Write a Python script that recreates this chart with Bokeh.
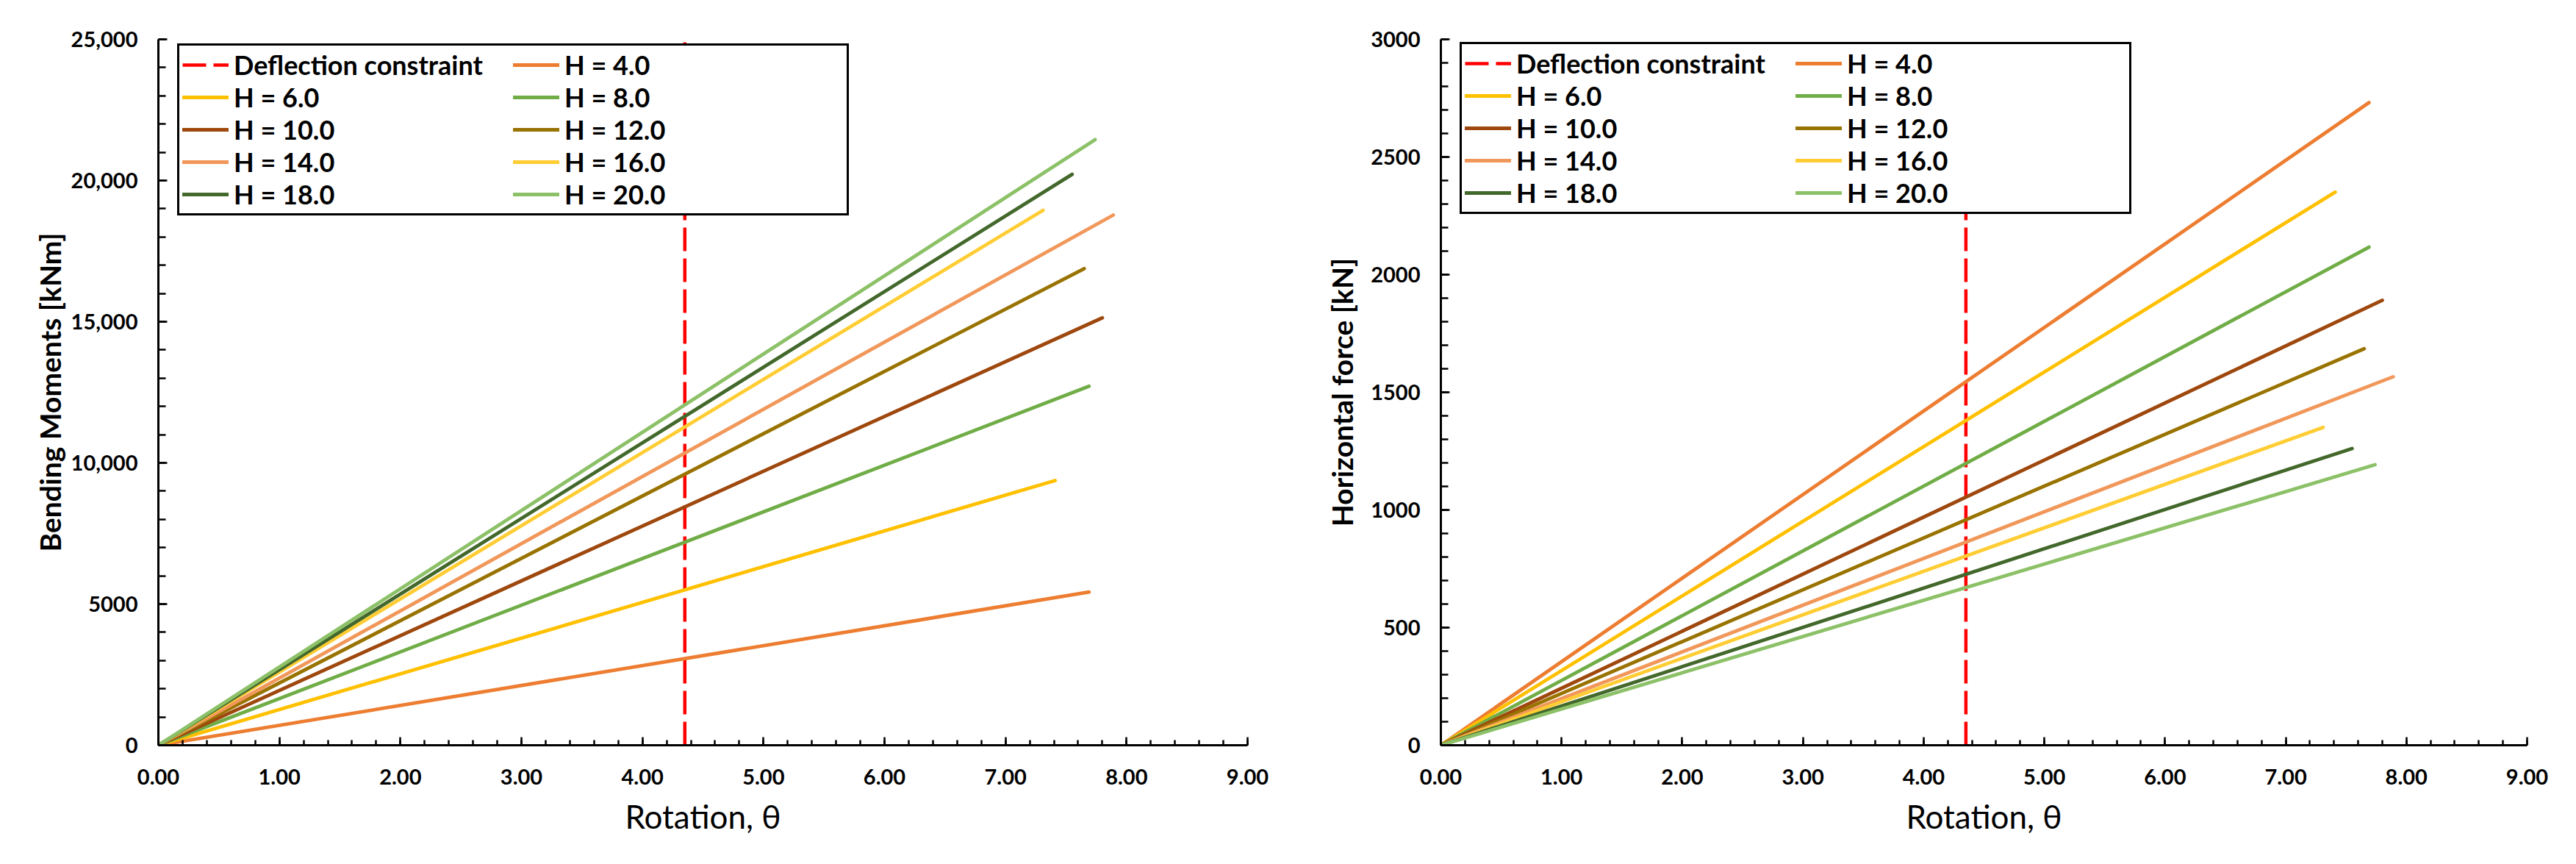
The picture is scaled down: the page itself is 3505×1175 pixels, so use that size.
from bokeh.plotting import figure
from bokeh.layouts import row
from bokeh.models import Range1d, FixedTicker, Legend, LegendItem
from bokeh.embed import file_html
from bokeh.resources import INLINE

# ---------------- data ----------------
series_labels = ["H = 4.0", "H = 6.0", "H = 8.0", "H = 10.0", "H = 12.0",
                 "H = 14.0", "H = 16.0", "H = 18.0", "H = 20.0"]
series_colors = ["#ED7D31", "#FFC000", "#70AD47", "#9E480E", "#997300",
                 "#F1975A", "#FFCD33", "#43682B", "#8CC168"]
theta_start = 0.0
theta_end = [7.69, 7.41, 7.69, 7.80, 7.65, 7.89, 7.31, 7.55, 7.74]
moment_end = [5424, 9376, 12713, 15138, 16881, 18776, 18945, 20218, 21448]
force_end = [2731, 2351, 2117, 1891, 1685, 1566, 1351, 1261, 1192]

constraint_label = "Deflection constraint"
constraint_theta = 4.35
constraint_color = "#FF0000"

x_ticks = [0, 1, 2, 3, 4, 5, 6, 7, 8, 9]
x_tick_labels = ["0.00", "1.00", "2.00", "3.00", "4.00", "5.00", "6.00", "7.00", "8.00", "9.00"]
moment_ticks = [0, 5000, 10000, 15000, 20000, 25000]
moment_tick_labels = ["0", "5000", "10,000", "15,000", "20,000", "25,000"]
force_ticks = [0, 500, 1000, 1500, 2000, 2500, 3000]
force_tick_labels = ["0", "500", "1000", "1500", "2000", "2500", "3000"]

x_title = "Rotation, \u03b8"
moment_title = "Bending Moments [kNm]"
force_title = "Horizontal force [kN]"

FONT = "Lato"


def make_panel(yvals, yticks, ylabels, ystep_minor, ytitle, ytitle_standoff,
               width, height, b_left, b_right, b_top, b_bottom):
    ymax = yticks[-1]
    p = figure(width=width, height=height, output_backend="svg",
               toolbar_location=None, x_range=Range1d(0, x_ticks[-1]),
               y_range=Range1d(0, ymax),
               min_border_left=b_left, min_border_right=b_right,
               min_border_top=b_top, min_border_bottom=b_bottom)
    p.outline_line_color = None
    p.xgrid.visible = False
    p.ygrid.visible = False
    p.background_fill_color = "white"
    p.border_fill_color = "white"

    items = []
    r = p.line([constraint_theta, constraint_theta], [0, ymax],
               line_color=constraint_color, line_width=4.5, line_dash="32 10")
    items.append(LegendItem(label=constraint_label, renderers=[r]))
    for lab, col, te, ye in zip(series_labels, series_colors, theta_end, yvals):
        r = p.line([theta_start, te], [0, ye], line_color=col, line_width=4.8,
                   line_cap="round")
        items.append(LegendItem(label=lab, renderers=[r]))

    xminor = [i * 0.2 for i in range(0, 46)]
    p.xaxis.ticker = FixedTicker(ticks=x_ticks, minor_ticks=xminor)
    p.xaxis.major_label_overrides = {t: l for t, l in zip(x_ticks, x_tick_labels)}
    yminor = [i * ystep_minor for i in range(0, int(ymax / ystep_minor) + 1)]
    p.yaxis.ticker = FixedTicker(ticks=yticks, minor_ticks=yminor)
    p.yaxis.major_label_overrides = {t: l for t, l in zip(yticks, ylabels)}

    for ax in (p.xaxis[0], p.yaxis[0]):
        ax.axis_line_color = "black"
        ax.axis_line_width = 3
        ax.major_tick_line_color = "black"
        ax.minor_tick_line_color = "black"
        ax.major_tick_line_width = 2.5
        ax.minor_tick_line_width = 2.5
        ax.major_tick_out = 0
        ax.minor_tick_out = 0
        ax.major_label_text_font = FONT
        ax.major_label_text_font_style = "bold"
        ax.major_label_text_font_size = "29px"
        ax.major_label_text_color = "black"
        ax.axis_label_text_color = "black"
        ax.axis_label_text_font = FONT
    p.xaxis.major_tick_in = 11
    p.xaxis.minor_tick_in = 7
    p.yaxis.major_tick_in = 12
    p.yaxis.minor_tick_in = 10
    p.xaxis.major_label_standoff = 32
    p.yaxis.major_label_standoff = 28

    p.xaxis.axis_label = x_title
    p.xaxis.axis_label_text_font_size = "44px"
    p.xaxis.axis_label_text_font_style = "normal"
    p.xaxis.axis_label_standoff = 14
    p.yaxis.axis_label = ytitle
    p.yaxis.axis_label_text_font_size = "39px"
    p.yaxis.axis_label_text_font_style = "bold"
    p.yaxis.axis_label_standoff = ytitle_standoff

    frame_h = height - b_top - b_bottom
    leg_bottom_offset = frame_h - 244
    legend = Legend(items=items, location=(26, leg_bottom_offset),
                    orientation="horizontal", ncols=2,
                    border_line_color="black", border_line_width=3,
                    border_line_alpha=1.0,
                    background_fill_color="white", background_fill_alpha=1.0,
                    label_text_font=FONT, label_text_font_style="bold",
                    label_text_font_size="36px", label_text_color="black",
                    glyph_width=63, glyph_height=44, label_height=44,
                    label_width=380, label_standoff=7, spacing=0,
                    padding=4, margin=0)
    p.add_layout(legend)
    return p


p1 = make_panel(moment_end, moment_ticks, moment_tick_labels, 1000, moment_title, 3,
                width=1753, height=1172, b_left=215, b_right=56, b_top=53, b_bottom=155)
p2 = make_panel(force_end, force_ticks, force_tick_labels, 100, force_title, 13,
                width=1750, height=1172, b_left=207, b_right=65, b_top=47, b_bottom=159)

layout = row(p1, p2)
open("out.html", "w").write(file_html(layout, INLINE))
